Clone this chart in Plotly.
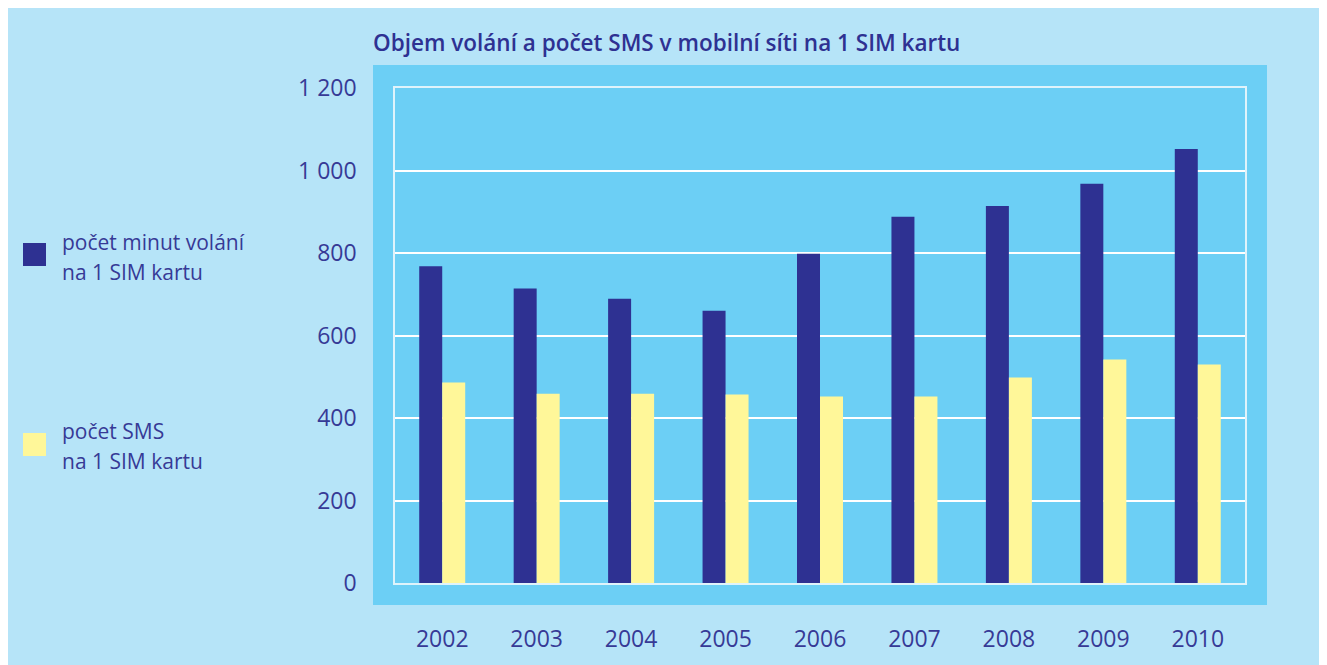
import plotly.graph_objects as go

years = ["2002", "2003", "2004", "2005", "2006", "2007", "2008", "2009", "2010"]
minutes = [768, 714, 689, 660, 798, 888, 914, 968, 1052]
sms = [486, 459, 459, 457, 452, 452, 498, 542, 530]
series_names = ["počet minut volání<br>na 1 SIM kartu", "počet SMS<br>na 1 SIM kartu"]
y_tickvals = [0, 200, 400, 600, 800, 1000, 1200]
y_ticktext = ["0", "200", "400", "600", "800", "1 000", "1 200"]
title_text = "Objem volání a počet SMS v mobilní síti na 1 SIM kartu"

NAVY = "#2e3192"
YELLOW = "#fff799"
PANEL = "#6ccff5"
OUTER = "#b6e4f8"
TEXT = "#363a96"

OFF = 8  # page body margin
W, H = 1327, 665
# plot area in screen coordinates
SL, SR, ST, SB = 395, 1245, 88, 583
L, R, T, B = SL - OFF, SR - OFF, ST - OFF, SB - OFF


def px(x):
    return (x - SL) / (SR - SL)


def py(y):
    return (SB - y) / (SB - ST)


fig = go.Figure()
fig.add_trace(go.Bar(x=years, y=minutes, name=series_names[0], marker=dict(color=NAVY, line=dict(width=0))))
fig.add_trace(go.Bar(x=years, y=sms, name=series_names[1], marker=dict(color=YELLOW, line=dict(width=0))))

shapes = [
    dict(type="rect", xref="paper", yref="paper", x0=px(373), x1=px(1267), y0=py(65), y1=py(605),
         fillcolor=PANEL, line=dict(width=0), layer="below"),
    dict(type="rect", xref="paper", yref="paper", x0=px(23), x1=px(46), y0=py(243), y1=py(266),
         fillcolor=NAVY, line=dict(width=0)),
    dict(type="rect", xref="paper", yref="paper", x0=px(23), x1=px(46), y0=py(433), y1=py(456),
         fillcolor=YELLOW, line=dict(width=0)),
]

annotations = [
    dict(text=title_text, xref="paper", yref="paper", x=px(371), y=py(42), xanchor="left", yanchor="middle",
         showarrow=False, font=dict(family="Open Sans", size=22.5, color=NAVY, weight=600)),
]
legend_rows = [(series_names[0], 242), (series_names[1], 431)]
for name, y0 in legend_rows:
    for i, line in enumerate(name.split("<br>")):
        annotations.append(dict(text=line, xref="paper", yref="paper", x=px(60), y=py(y0 + 30 * i),
                                xanchor="left", yanchor="middle", showarrow=False,
                                font=dict(family="Open Sans", size=21, color=TEXT)))

fig.update_layout(
    width=W, height=H, autosize=False,
    margin=dict(l=L, r=W - R, t=T, b=H - B, pad=0, autoexpand=False),
    paper_bgcolor=OUTER, plot_bgcolor=PANEL,
    showlegend=False, barmode="group", bargap=0.513, bargroupgap=0,
    shapes=shapes, annotations=annotations,
)
fig.update_xaxes(
    type="category", range=[-0.5, 8.5], showgrid=False, showline=True, mirror=True,
    linecolor="#dff3fb", linewidth=1.5, ticks="", ticklabelstandoff=35, automargin=False,
    tickfont=dict(family="Open Sans", size=23, color=TEXT),
)
fig.update_yaxes(
    range=[0, 1200], tickvals=y_tickvals, ticktext=y_ticktext, showgrid=True, gridcolor="white",
    gridwidth=1.5, showline=True, mirror=True, linecolor="#dff3fb", linewidth=1.5, zeroline=False,
    ticks="", ticklabelstandoff=32, automargin=False, tickfont=dict(family="Open Sans", size=23, color=TEXT),
)

fig.write_html("out.html")
